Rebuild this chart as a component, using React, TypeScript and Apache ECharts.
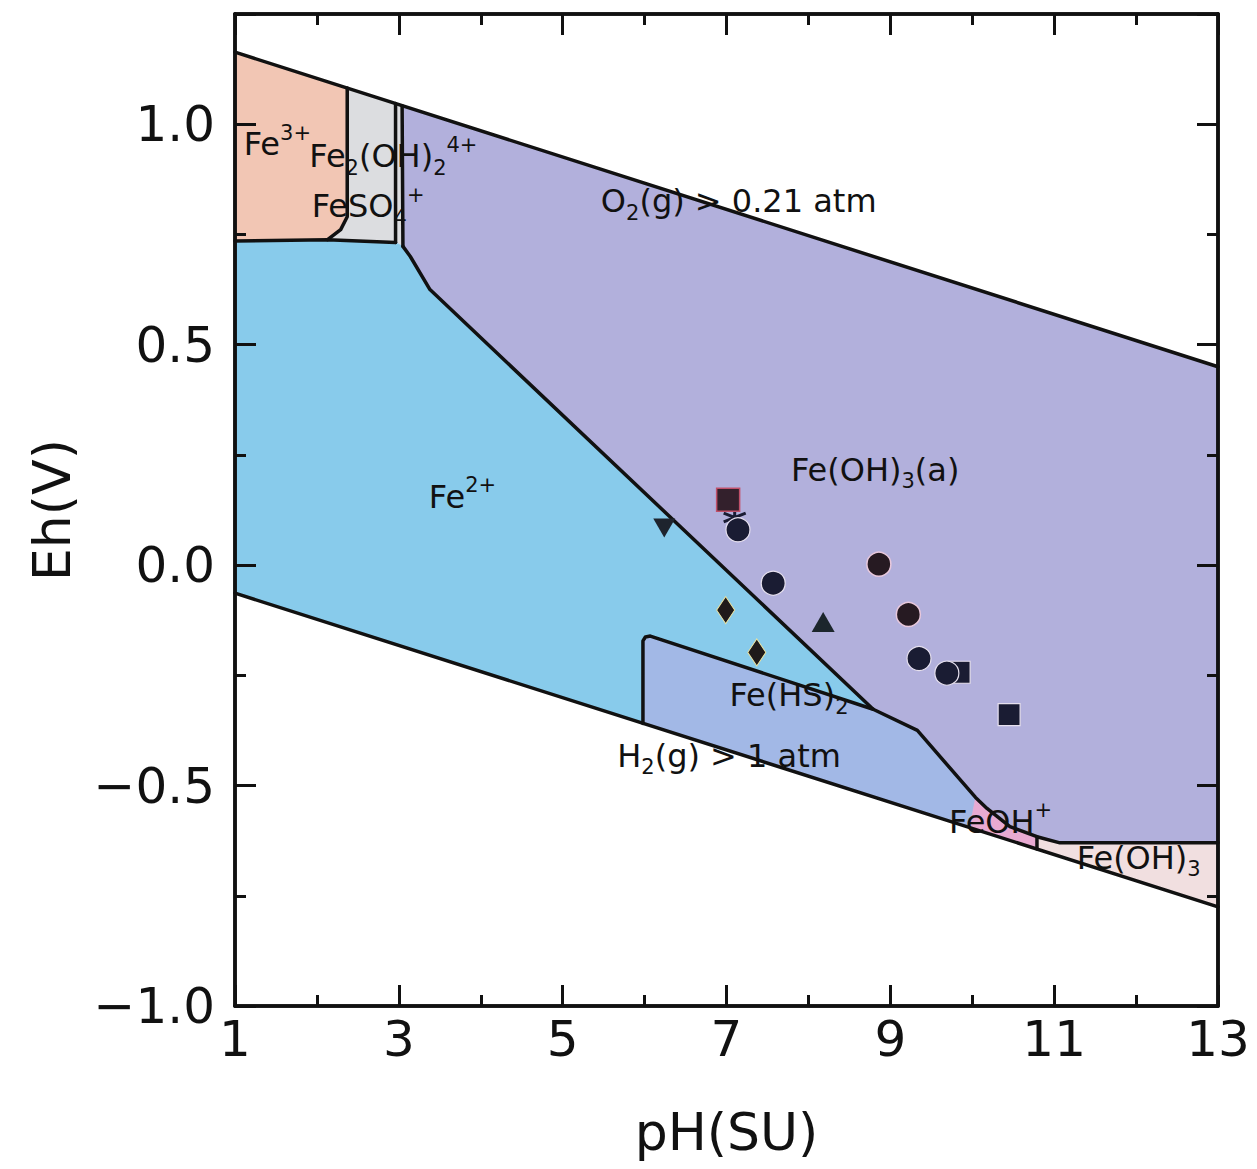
import React, { useEffect, useRef } from "react";
import * as echarts from "echarts";

// ---------- axes ----------
const PH_MIN = 1;
const PH_MAX = 13;
const EH_MIN = -1;
const EH_MAX = 1.25;
const xTickLabels = [1, 3, 5, 7, 9, 11, 13];
const yTickLabels = [-1, -0.5, 0, 0.5, 1];

// ---------- stability field boundaries (pH, Eh) ----------
const o2Line = [[1, 1.1635], [13, 0.45]];
const h2Line = [[1, -0.0636], [13, -0.775]];
const fe3Boundary = [[2.37, 1.082], [2.37, 0.79], [2.29, 0.761], [2.13, 0.738]];
const fe3Bottom = [[1, 0.735], [2.13, 0.738], [2.96, 0.732]];
const sulfateLeft = [[2.96, 1.047], [2.96, 0.732]];
const sulfateRight = [[3.04, 1.042], [3.05, 0.723]];
const ferrihydriteBoundary = [
  [3.05, 0.723], [3.14, 0.7], [3.38, 0.625], [8.79, -0.327], [9.33, -0.375],
  [10.04, -0.527], [10.18, -0.552], [10.46, -0.593], [10.79, -0.616],
  [11.07, -0.63], [13, -0.63],
];
const hsBoundary = [[5.98, -0.359], [5.98, -0.172], [6.01, -0.163], [6.07, -0.161], [8.79, -0.327]];
const feohBoundary = [[10.79, -0.616], [10.79, -0.644]];

const fe3Region = [[1, 1.1635], [2.37, 1.082], [2.37, 0.79], [2.29, 0.761], [2.13, 0.738], [1, 0.735]];
const feso4Region = [[2.37, 1.082], [3.04, 1.042], [3.05, 0.723], [2.96, 0.732], [2.13, 0.738], [2.29, 0.761], [2.37, 0.79]];
const fe2Region = [
  [1, 0.735], [2.13, 0.738], [2.96, 0.732], [3.05, 0.723], [3.14, 0.7], [3.38, 0.625],
  [8.79, -0.327], [9.33, -0.375], [10.04, -0.527], [9.97, -0.595], [1, -0.0636],
];
const ferrihydriteRegion = [
  [3.04, 1.042], [13, 0.45], [13, -0.63], [11.07, -0.63], [10.79, -0.616], [10.46, -0.593],
  [10.18, -0.552], [10.04, -0.527], [9.33, -0.375], [8.79, -0.327], [3.38, 0.625], [3.14, 0.7], [3.05, 0.723],
];
const feHS2Region = [
  [5.98, -0.359], [5.98, -0.172], [6.01, -0.163], [6.07, -0.161], [8.79, -0.327],
  [9.33, -0.375], [10.04, -0.527], [9.97, -0.595],
];
const feOHRegion = [[10.04, -0.527], [10.18, -0.552], [10.46, -0.593], [10.79, -0.616], [10.79, -0.644], [9.97, -0.595]];
const feOH3Region = [[10.79, -0.616], [11.07, -0.63], [13, -0.63], [13, -0.775], [10.79, -0.644]];

// ---------- field labels ----------
const fieldLabelText = [
  "Fe{sup|3+}",
  "Fe{sub|2}(OH){sub|2}{sup|4+}",
  "FeSO{sub|4}{sup|+}",
  "O{sub|2}(g) > 0.21 atm",
  "Fe(OH){sub|3}(a)",
  "Fe{sup|2+}",
  "Fe(HS){sub|2}",
  "H{sub|2}(g) > 1 atm",
  "FeOH{sup|+}",
  "Fe(OH){sub|3}",
];
const fieldLabelPH = [1.1, 1.9, 1.93, 5.46, 7.78, 3.36, 7.03, 5.66, 9.71, 11.27];
const fieldLabelEh = [0.955, 0.927, 0.814, 0.825, 0.216, 0.155, -0.295, -0.432, -0.582, -0.664];

// ---------- samples ----------
const samplePH = [7.02, 7.14, 7.57, 6.24, 6.99, 7.37, 8.18, 8.86, 9.22, 9.35, 9.84, 9.69, 10.45];
const sampleEh = [0.148, 0.08, -0.041, 0.084, -0.102, -0.198, -0.129, 0.002, -0.112, -0.212, -0.243, -0.245, -0.339];
const sampleKind = ["squareRed", "circle", "circle", "triDown", "diamond", "diamond", "tri", "circleRed", "circleRed", "circle", "square", "circle", "square"];
const starPH = [7.1];
const starEh = [0.108];

const FONT = "'DejaVu Sans', 'Liberation Sans', Arial, sans-serif";
const INK = "#111111";
const MARK = "#1a1c33";

const kindStyle: Record<string, any> = {
  squareRed: { symbol: "rect", symbolSize: 23, itemStyle: { color: "#33202c", borderColor: "#c0506a", borderWidth: 1.5, opacity: 1 } },
  square: { symbol: "rect", symbolSize: 22, itemStyle: { color: MARK, borderColor: "#e6e0ee", borderWidth: 1.2, opacity: 1 } },
  circle: { symbol: "circle", symbolSize: 24, itemStyle: { color: MARK, borderColor: "#e6e0ee", borderWidth: 1.2, opacity: 1 } },
  circleRed: { symbol: "circle", symbolSize: 24, itemStyle: { color: "#261a22", borderColor: "#e8c8dc", borderWidth: 1.5, opacity: 1 } },
  triDown: { symbol: "triangle", symbolSize: [22, 19], symbolRotate: 180, itemStyle: { color: "#1e242e", opacity: 1 } },
  tri: { symbol: "triangle", symbolSize: [23, 20], itemStyle: { color: "#1c262c", opacity: 1 } },
  diamond: { symbol: "diamond", symbolSize: [18, 27], itemStyle: { color: "#1f1a1a", borderColor: "#f0e6a0", borderWidth: 1, opacity: 1 } },
};

const regionColors = {
  fe3: "#f2c6b4",
  feso4: "#dcdde0",
  fe2: "#88cbeb",
  ferri: "#b2b0dc",
  hs2: "#a2b8e6",
  feoh: "#e8aad2",
  feoh3: "#f1dfe0",
};

function buildOption() {
  const regions = [
    { pts: fe3Region, color: regionColors.fe3 },
    { pts: feso4Region, color: regionColors.feso4 },
    { pts: fe2Region, color: regionColors.fe2 },
    { pts: ferrihydriteRegion, color: regionColors.ferri },
    { pts: feHS2Region, color: regionColors.hs2 },
    { pts: feOHRegion, color: regionColors.feoh },
    { pts: feOH3Region, color: regionColors.feoh3 },
  ];

  const lines = [o2Line, h2Line, fe3Boundary, fe3Bottom, sulfateLeft, sulfateRight, ferrihydriteBoundary, hsBoundary, feohBoundary];

  const axisLine = { show: true, onZero: false, lineStyle: { color: INK, width: 3.5 } };
  const majorTick = { show: true, inside: true, length: 21, lineStyle: { color: INK, width: 3 } };
  const minorTick = { show: true, inside: true, length: 11, lineStyle: { color: INK, width: 3 } };

  const xBase = { type: "value", min: PH_MIN, max: PH_MAX, splitLine: { show: false }, axisLine };
  const yBase = { type: "value", min: EH_MIN, max: EH_MAX, splitLine: { show: false }, axisLine };

  const xAxis = [
    {
      ...xBase, position: "bottom", interval: 2, axisTick: majorTick, z: 10,
      axisLabel: {
        show: true, fontSize: 50, color: INK, fontFamily: FONT, margin: 8,
        formatter: (v: number) => (xTickLabels.some((t) => Math.abs(t - v) < 1e-6) ? String(Math.round(v)) : ""),
      },
      name: "pH(SU)", nameLocation: "middle", nameGap: 100,
      nameTextStyle: { fontSize: 52, color: INK, fontFamily: FONT },
    },
    { ...xBase, position: "bottom", interval: 1, axisTick: minorTick, axisLabel: { show: false }, z: 10 },
    { ...xBase, position: "top", interval: 2, axisTick: majorTick, axisLabel: { show: false }, z: 10 },
    { ...xBase, position: "top", interval: 1, axisTick: minorTick, axisLabel: { show: false }, z: 10 },
  ];

  const yAxis = [
    {
      ...yBase, position: "left", interval: 0.5, axisTick: majorTick, z: 10,
      axisLabel: {
        show: true, fontSize: 50, color: INK, fontFamily: FONT, margin: 20,
        formatter: (v: number) => {
          if (!yTickLabels.some((t) => Math.abs(t - v) < 1e-6)) return "";
          return (v < -1e-9 ? "\u2212" : "") + Math.abs(v).toFixed(1);
        },
      },
      name: "Eh(V)", nameLocation: "middle", nameGap: 157,
      nameTextStyle: { fontSize: 52, color: INK, fontFamily: FONT },
    },
    { ...yBase, position: "left", interval: 0.25, axisTick: minorTick, axisLabel: { show: false }, z: 10 },
    { ...yBase, position: "right", interval: 0.5, axisTick: majorTick, axisLabel: { show: false }, z: 10 },
    { ...yBase, position: "right", interval: 0.25, axisTick: minorTick, axisLabel: { show: false }, z: 10 },
  ];

  const series: any[] = [];

  series.push({
    type: "custom",
    silent: true,
    z: 1,
    data: regions.map((r, i) => [r.pts[0][0], r.pts[0][1], i]),
    renderItem: (params: any, api: any) => {
      const r = regions[params.dataIndex];
      return {
        type: "polygon",
        shape: { points: r.pts.map((p) => api.coord(p)) },
        style: { fill: r.color, stroke: r.color, lineWidth: 0.5 },
      };
    },
  });

  lines.forEach((ln) => {
    series.push({
      type: "line",
      data: ln,
      symbol: "none",
      silent: true,
      z: 3,
      lineStyle: { color: INK, width: 3.5, join: "round", cap: "round" },
    });
  });

  series.push({
    type: "scatter",
    silent: true,
    z: 4,
    symbolSize: 1,
    itemStyle: { color: "rgba(0,0,0,0)", opacity: 1 },
    data: fieldLabelText.map((t, i) => ({ name: t, value: [fieldLabelPH[i], fieldLabelEh[i]] })),
    label: {
      show: true,
      position: "right",
      distance: 0,
      formatter: (p: any) => p.name,
      color: INK,
      opacity: 1,
      fontSize: 32,
      fontFamily: FONT,
      lineHeight: 44,
      rich: {
        sub: { fontSize: 21, lineHeight: 21, verticalAlign: "bottom", fontFamily: FONT, color: INK },
        sup: { fontSize: 21, lineHeight: 21, verticalAlign: "top", fontFamily: FONT, color: INK },
      },
    },
  });

  series.push({
    type: "scatter",
    silent: true,
    z: 5,
    symbol: "path://M0,-10L0,10M-9,-4L9,4M-9,4L9,-4",
    symbolSize: 22,
    itemStyle: { color: "rgba(0,0,0,0)", borderColor: MARK, borderWidth: 3, opacity: 1 },
    data: starPH.map((x, i) => [x, starEh[i]]),
  });

  series.push({
    type: "scatter",
    silent: true,
    z: 6,
    itemStyle: { opacity: 1 },
    data: samplePH.map((x, i) => ({ value: [x, sampleEh[i]], ...kindStyle[sampleKind[i]] })),
  });

  return {
    animation: false,
    backgroundColor: "#ffffff",
    grid: { left: 235, right: 39, top: 14, bottom: 163, containLabel: false },
    xAxis,
    yAxis,
    series,
  };
}

export default function App() {
  const ref = useRef<HTMLDivElement>(null);
  useEffect(() => {
    if (!ref.current) return;
    const chart = echarts.init(ref.current, undefined, { renderer: "svg" });
    chart.setOption(buildOption() as any);
    return () => chart.dispose();
  }, []);
  return (
    <div
      ref={ref}
      style={{ position: "absolute", left: 0, top: 0, width: 1257, height: 1169, background: "#fff" }}
    />
  );
}
